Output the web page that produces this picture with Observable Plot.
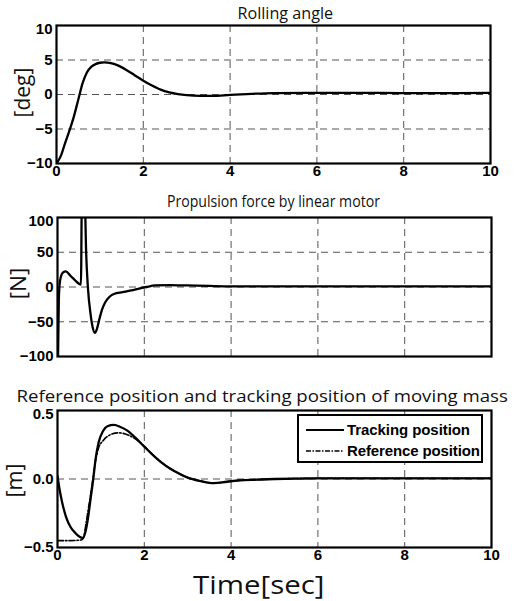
<!DOCTYPE html>
<html><head><meta charset="utf-8">
<script src="https://cdn.jsdelivr.net/npm/d3@7"></script>
<script src="https://cdn.jsdelivr.net/npm/@observablehq/plot@0.6"></script>
<style>
body{margin:0;background:#fff}
#c{position:relative;width:515px;height:601px;overflow:hidden;background:#fff}
.p{position:absolute;left:0}
.t{position:absolute;white-space:nowrap;color:#111;transform-origin:center center;line-height:1}
</style></head><body><div id="c"></div><script>
// ---------- data ----------
const titles = ["Rolling angle", "Propulsion force by linear motor", "Reference position and tracking position of moving mass"];
const yLabels = ["[deg]", "[N]", "[m]"];
const xLabel = "Time[sec]";
const legendLabels = ["Tracking position", "Reference position"];

const xTicks = [0, 2, 4, 6, 8, 10];
const xGrid = [2, 4, 6, 8];

const rollTicks = [-10, -5, 0, 5, 10];
const rollGrid = [-5, 0, 5];
const rollT = [0, 0.1, 0.2, 0.3, 0.4, 0.5, 0.6, 0.7, 0.8, 0.9, 1.0, 1.1, 1.25, 1.4, 1.6, 1.8, 2.0, 2.2, 2.4, 2.6, 2.8, 3.0, 3.3, 3.6, 4.0, 4.5, 5, 6, 7, 8, 9, 10];
const rollV = [-10, -8.9, -7.0, -5.2, -3.2, -0.8, 1.6, 3.2, 4.0, 4.4, 4.6, 4.65, 4.55, 4.25, 3.6, 2.8, 2.0, 1.3, 0.7, 0.3, 0.05, -0.1, -0.2, -0.2, -0.05, 0.1, 0.2, 0.25, 0.25, 0.2, 0.2, 0.25];

const forceTicks = [-100, -50, 0, 50, 100];
const forceGrid = [-50, 0, 50];
const forceT = [0, 0.03, 0.05, 0.08, 0.13, 0.19, 0.3, 0.4, 0.54, 0.57, 0.62, 0.66, 0.70, 0.76, 0.81, 0.86, 0.91, 0.97, 1.03, 1.1, 1.2, 1.3, 1.5, 1.7, 1.9, 2.05, 2.25, 2.6, 3.0, 3.5, 4, 6, 8, 10];
const forceV = [-160, -20, 5, 15, 21, 22.5, 16, 10, 3.5, 200, 160, 50, 0, -38, -58, -66, -60, -45, -32, -22, -14, -10, -7.5, -5, -2, 0, 2.2, 2.8, 2.2, 1.5, 1, 1, 1, 1];

const posTicks = [-0.5, 0, 0.5];
const posGrid = [0];
const trackT = [0, 0.05, 0.1, 0.2, 0.3, 0.4, 0.5, 0.58, 0.64, 0.7, 0.76, 0.82, 0.88, 0.95, 1.05, 1.15, 1.3, 1.45, 1.6, 1.8, 2.0, 2.2, 2.4, 2.6, 2.8, 3.0, 3.3, 3.6, 3.9, 4.2, 4.6, 5, 6, 7, 8, 10];
const trackV = [0.02, -0.08, -0.16, -0.28, -0.35, -0.39, -0.42, -0.43, -0.39, -0.29, -0.15, -0.01, 0.15, 0.27, 0.35, 0.385, 0.395, 0.38, 0.355, 0.3, 0.235, 0.175, 0.12, 0.075, 0.04, 0.01, -0.015, -0.03, -0.02, -0.01, -0.005, 0, 0.005, 0.005, 0.005, 0.005];
const refT = [0, 0.3, 0.55, 0.6, 0.65, 0.7, 0.76, 0.82, 0.88, 0.95, 1.05, 1.2, 1.4, 1.55, 1.7, 1.85, 2.0, 2.2, 2.4, 2.6, 2.8, 3.0, 3.3, 3.6, 3.9, 4.2, 4.6, 5, 6, 7, 8, 10];
const refV = [-0.45, -0.45, -0.445, -0.43, -0.34, -0.24, -0.12, 0.01, 0.14, 0.23, 0.28, 0.32, 0.337, 0.33, 0.31, 0.28, 0.24, 0.175, 0.12, 0.075, 0.04, 0.01, -0.015, -0.03, -0.02, -0.01, -0.005, 0, 0.005, 0.005, 0.005, 0.005];

// ---------- helpers ----------
const C = document.getElementById("c");
const zip = (t, v, s) => t.map((x, i) => ({t: x, v: v[i], s}));
const gridStyle = {stroke: "#555", strokeWidth: 1, strokeDasharray: "7,5"};
const tickFont = "'Liberation Sans', Arial, sans-serif";

function panel({top, height, ml, mr, mt, mb, yDomain, yTicks, yGrid, showX, lines}) {
  const topTick = yTicks[yTicks.length - 1];
  const marks = [
    Plot.ruleX(xGrid, gridStyle),
    Plot.ruleY(yGrid, gridStyle),
    ...lines,
    Plot.frame({stroke: "black", strokeWidth: 2.2}),
    Plot.axisY({ticks: yTicks.slice(0, -1), label: null, tickSize: 0, tickPadding: 4, fontSize: 15, fontWeight: "bold"}),
    Plot.axisY({ticks: [topTick], label: null, tickSize: 0, tickPadding: 4, dy: 4, fontSize: 15, fontWeight: "bold"})
  ];
  if (showX) marks.push(Plot.axisX({ticks: xTicks, label: null, tickSize: 0, tickPadding: 2, fontSize: 15, fontWeight: "bold"}));
  const svg = Plot.plot({
    width: 515, height, marginLeft: ml, marginRight: mr, marginTop: mt, marginBottom: mb,
    x: {domain: [0, 10], axis: null},
    y: {domain: yDomain, axis: null},
    style: {fontFamily: tickFont, color: "black", background: "transparent", overflow: "visible"},
    marks
  });
  svg.classList.add("p");
  svg.style.top = top + "px";
  d3.select(svg).selectAll("text")
    .attr("font-weight", "bold").style("font-weight", "700")
    .style("font-family", tickFont).style("font-size", "15px").attr("fill", "black");
  C.appendChild(svg);
}

panel({top: 0, height: 190, ml: 56, mr: 25, mt: 25, mb: 27, yDomain: [-10, 10], yTicks: rollTicks, yGrid: rollGrid, showX: true,
  lines: [Plot.line(zip(rollT, rollV), {x: "t", y: "v", stroke: "black", strokeWidth: 2.3, curve: "monotone-x", clip: true})]});

panel({top: 190, height: 180, ml: 57, mr: 24, mt: 27, mb: 14, yDomain: [-100, 100], yTicks: forceTicks, yGrid: forceGrid, showX: false,
  lines: [Plot.line(zip(forceT, forceV), {x: "t", y: "v", stroke: "black", strokeWidth: 2.3, curve: "monotone-x", clip: true})]});

panel({top: 385, height: 185, ml: 57, mr: 24, mt: 25, mb: 23, yDomain: [-0.5, 0.5], yTicks: posTicks, yGrid: posGrid, showX: true,
  lines: [
    Plot.line(zip(refT, refV), {x: "t", y: "v", stroke: "black", strokeWidth: 1.6, strokeDasharray: "6,2,1.5,2", curve: "monotone-x", clip: true}),
    Plot.line(zip(trackT, trackV), {x: "t", y: "v", stroke: "black", strokeWidth: 2.3, curve: "monotone-x", clip: true})
  ]});

function label(text, cx, cy, size, len, rot, family, weight) {
  const s = document.createElement("span");
  s.className = "t";
  s.textContent = text;
  s.style.fontFamily = family || "'Open Sans', sans-serif";
  s.style.fontSize = size + "px";
  s.style.fontWeight = weight || "normal";
  C.appendChild(s);
  const w = s.offsetWidth, h = s.offsetHeight;
  s.style.left = (cx - w / 2) + "px";
  s.style.top = (cy - h / 2) + "px";
  s.style.transform = `rotate(${rot || 0}deg) scaleX(${len / w})`;
}

label(titles[0], 285, 12, 17, 96);
label(titles[1], 273, 200, 17, 213);
label(titles[2], 262, 395, 17, 491);
label(xLabel, 259, 584, 25, 132);
label(yLabels[0], 23, 92, 21, 50, -90);
label(yLabels[1], 19, 283, 21, 32, -90);
label(yLabels[2], 14, 480, 21, 34, -90);

// legend
const lg = d3.create("svg").attr("width", 190).attr("height", 52)
  .style("position", "absolute").style("left", "295px").style("top", "412px");
lg.append("rect").attr("x", 3).attr("y", 3).attr("width", 184).attr("height", 47)
  .attr("fill", "white").attr("stroke", "black").attr("stroke-width", 2);
[0, 1].forEach(i => {
  const y = i === 0 ? 18 : 39;
  lg.append("line").attr("x1", 11).attr("x2", 49).attr("y1", y).attr("y2", y)
    .attr("stroke", "black").attr("stroke-width", i === 0 ? 1.8 : 1.4)
    .attr("stroke-dasharray", i === 0 ? null : "5,1.5,1.5,1.5");
  lg.append("text").attr("x", 52).attr("y", y).attr("dy", "0.36em")
    .attr("font-family", tickFont).attr("font-weight", "bold")
    .attr("font-size", 15).attr("textLength", i === 0 ? 123 : 133).text(legendLabels[i]);
});
C.appendChild(lg.node());
</script></body></html>
